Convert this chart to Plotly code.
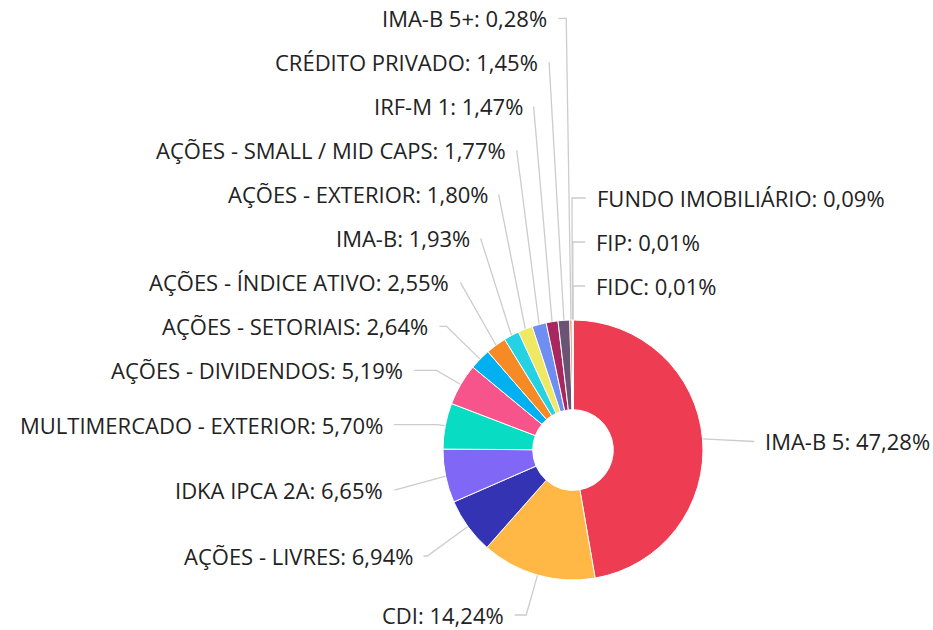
import math
import plotly.graph_objects as go

# ---- data ----
labels = [
    "IMA-B 5", "CDI", "AÇÕES - LIVRES", "IDKA IPCA 2A", "MULTIMERCADO - EXTERIOR",
    "AÇÕES - DIVIDENDOS", "AÇÕES - SETORIAIS", "AÇÕES - ÍNDICE ATIVO", "IMA-B",
    "AÇÕES - EXTERIOR", "AÇÕES - SMALL / MID CAPS", "IRF-M 1", "CRÉDITO PRIVADO",
    "IMA-B 5+", "FUNDO IMOBILIÁRIO", "FIP", "FIDC",
]
values = [47.28, 14.24, 6.94, 6.65, 5.70, 5.19, 2.64, 2.55, 1.93, 1.80, 1.77, 1.47,
          1.45, 0.28, 0.09, 0.01, 0.01]
colors = [
    "#EE3D52", "#FFB845", "#3333B3", "#8167F5", "#08DDC3", "#F7548B", "#00B0F1",
    "#F68B26", "#25D2E3", "#EFE862", "#6F8EF2", "#A8275F", "#6A5476", "#E8742A",
    "#9B59B6", "#2E8B57", "#C0392B",
]

# ---- layout parameters (pixels) ----
W, H = 933, 630
CX, CY, R = 573, 450, 130
HOLE = 0.31
LABEL_R = 170      # radius used for natural label positions
LABEL_PAD = 12     # extra horizontal offset of the connector end
TEXT_GAP = 10      # gap between connector end and text
SPACING = 44       # minimal vertical distance between labels
Y_OFF = 6
Y_MIN, Y_MAX = 15, H - 15
TOP_TOL = 0.01     # slices this close to 12 o'clock are labelled on the right
FONT = dict(family="Open Sans", size=22, color="#222222")
LINE = dict(color="#cccccc", width=1.3)


def px(x):
    return x / W


def py(y):
    return 1 - y / H


total = sum(values)
items = []
cum = 0.0
for i, v in enumerate(values):
    theta = 2 * math.pi * (cum + v / 2) / total
    cum += v
    s = math.sin(theta)
    right = s > 0 or (2 * math.pi - theta) < TOP_TOL
    items.append(dict(i=i, theta=theta, right=right,
                      ny=CY - LABEL_R * math.cos(theta) + Y_OFF))


def distribute(group, key):
    group.sort(key=key)
    # push upward from the bottom
    for k in range(len(group) - 1, -1, -1):
        y = min(group[k]["ny"], Y_MAX)
        if k < len(group) - 1:
            y = min(y, group[k + 1]["y"] - SPACING)
        group[k]["y"] = y
    # fix top bound if needed
    for k in range(len(group)):
        lo = Y_MIN if k == 0 else group[k - 1]["y"] + SPACING
        group[k]["y"] = max(group[k]["y"], lo)


left = [it for it in items if not it["right"]]
rightg = [it for it in items if it["right"]]
distribute(left, key=lambda it: it["ny"])
distribute(rightg, key=lambda it: it["theta"] - 2 * math.pi if it["theta"] > math.pi else it["theta"])

annotations = []
shapes = []
for it in items:
    th = it["theta"]
    sgn = 1 if it["right"] else -1
    ly = it["y"]
    ax = CX + sgn * (LABEL_R * abs(math.sin(th)) + LABEL_PAD)
    ex = CX + R * math.sin(th)
    ey = CY - R * math.cos(th)
    pts = [(ax, ly)]
    c = math.cos(th)
    if abs(c) > 1e-9:
        t = (CY - ly) / c
        if t > R:
            crook_x = CX + t * math.sin(th)
            if (sgn < 0 and crook_x >= ax) or (sgn > 0 and crook_x <= ax):
                pts.append((crook_x, ly))
    pts.append((ex, ey))
    path = "M " + " L ".join(f"{px(x):.5f},{py(y):.5f}" for x, y in pts)
    shapes.append(dict(type="path", path=path, xref="paper", yref="paper",
                       line=LINE, layer="below"))
    txt = f"{labels[it['i']]}: {values[it['i']]:.2f}%".replace(".", ",")
    annotations.append(dict(
        text=txt, x=px(ax + sgn * TEXT_GAP), y=py(ly), xref="paper", yref="paper",
        xanchor="left" if sgn > 0 else "right", yanchor="middle",
        showarrow=False, font=FONT, borderpad=0,
    ))

fig = go.Figure(go.Pie(
    labels=labels, values=values, sort=False, direction="clockwise", rotation=0,
    hole=HOLE, textinfo="none", showlegend=False,
    marker=dict(colors=colors, line=dict(color="#ffffff", width=1)),
    domain=dict(x=[px(CX - R), px(CX + R)], y=[py(CY + R), py(CY - R)]),
))
fig.update_layout(
    width=W, height=H, margin=dict(l=0, r=0, t=0, b=0),
    paper_bgcolor="#ffffff", plot_bgcolor="#ffffff",
    annotations=annotations, shapes=shapes,
)
fig.write_html("out.html", config={"displayModeBar": False},
               post_script="document.body.style.margin='0px';")
